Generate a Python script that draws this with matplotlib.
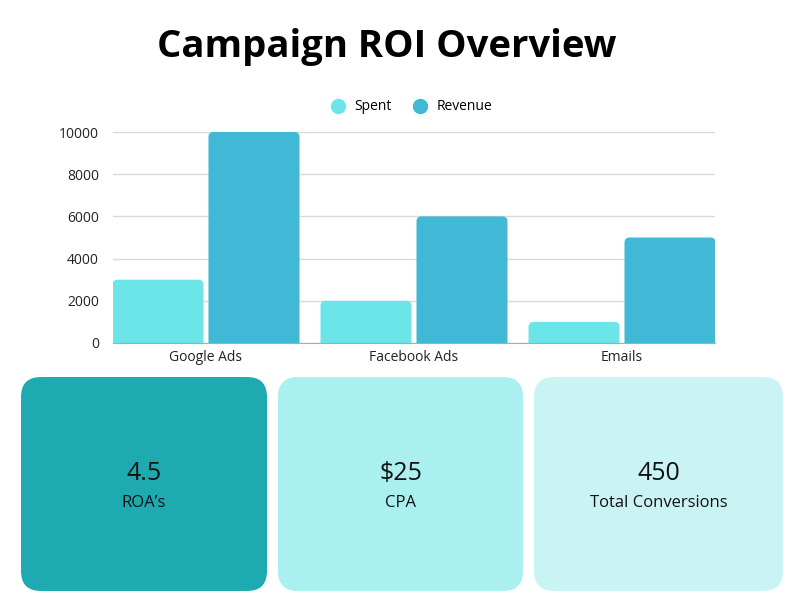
import numpy as np
import matplotlib
matplotlib.use("Agg")
import matplotlib.pyplot as plt
from matplotlib.patches import FancyBboxPatch
from matplotlib.lines import Line2D

# data
channels = ["Google Ads", "Facebook Ads", "Emails"]
spent = [3000, 2000, 1000]
revenue = [10000, 6000, 5000]
kpi_values = ["4.5", "$25", "450"]
kpi_labels = ["ROA\u2019s", "CPA", "Total Conversions"]

c_spent = "#6CE5E8"
c_rev = "#41B8D5"
card_colors = ["#1EAAB1", "#AAF0F1", "#CAF4F4"]

plt.rcParams['font.family'] = ['Open Sans', 'DejaVu Sans']

fig = plt.figure(figsize=(8, 6), dpi=100)
fig.patch.set_facecolor("white")

##############################################################################
# Bar chart
ax = fig.add_axes([113/800, 1 - 343/600, 602/800, 211/600])
x = np.arange(len(channels))
w = 0.4375
gap = 0.024
bars_s = ax.bar(x - gap/2 - w/2, spent, w, color=c_spent, zorder=3)
bars_r = ax.bar(x + gap/2 + w/2, revenue, w, color=c_rev, zorder=3)

# swap square bars for ones with rounded tops
rad_x = 5/208.0
for b in list(bars_s) + list(bars_r):
    bx, by = b.get_x(), b.get_y()
    bw, bh = b.get_width(), b.get_height()
    b.set_visible(False)
    p = FancyBboxPatch((bx + rad_x, by - 400), bw - 2*rad_x, bh + 400 - rad_x*10000,
                       boxstyle="round,pad=%f" % rad_x, mutation_aspect=10000,
                       facecolor=b.get_facecolor(), edgecolor="none", zorder=3)
    ax.add_patch(p)

ax.set_xlim(-0.447, 2.447)
ax.set_ylim(0, 10000)
ax.set_yticks(np.arange(0, 10001, 2000))
ax.set_xticks(x)
ax.set_xticklabels(channels)
ax.yaxis.grid(True, color="#D9D9D9", lw=1, zorder=0)
for s in ["top", "right", "left"]:
    ax.spines[s].set_visible(False)
ax.spines["bottom"].set_color("#AAAAAA")
ax.spines["bottom"].set_zorder(4)
ax.tick_params(axis="both", length=0, labelsize=10, labelcolor="#222222")
ax.tick_params(axis="y", pad=10)
ax.tick_params(axis="x", pad=5)

handles = [Line2D([], [], marker="o", ls="none", markersize=10, color=c_spent),
           Line2D([], [], marker="o", ls="none", markersize=10, color=c_rev)]
fig.legend(handles, ["Spent", "Revenue"], loc="center", bbox_to_anchor=(408/800, 1 - 107/600),
           ncol=2, frameon=False, fontsize=10, handletextpad=0.2, columnspacing=1.0)

fig.text(387/800, 1 - 47/600, "Campaign ROI Overview", ha="center", va="center",
         fontsize=27.5, fontweight="bold", color="black")

##############################################################################
# KPI cards
ov = fig.add_axes([0, 0, 1, 1])
ov.set_xlim(0, 800)
ov.set_ylim(600, 0)
ov.axis("off")
ov.patch.set_alpha(0)

cards = [(21, 267), (278, 523), (534, 783)]
top, bot = 377, 591
r = 20
for (x0, x1), col, val, lab in zip(cards, card_colors, kpi_values, kpi_labels):
    ov.add_patch(FancyBboxPatch((x0 + r, top + r), x1 - x0 - 2*r, bot - top - 2*r,
                                boxstyle="round,pad=%d" % r, facecolor=col, edgecolor="none"))
    cx = (x0 + x1) / 2
    ov.text(cx, 474, val, ha="center", va="center", fontsize=18, color="#111111")
    ov.text(cx, 503, lab, ha="center", va="center", fontsize=12, color="#111111")

fig.savefig("out.png", dpi=100)
